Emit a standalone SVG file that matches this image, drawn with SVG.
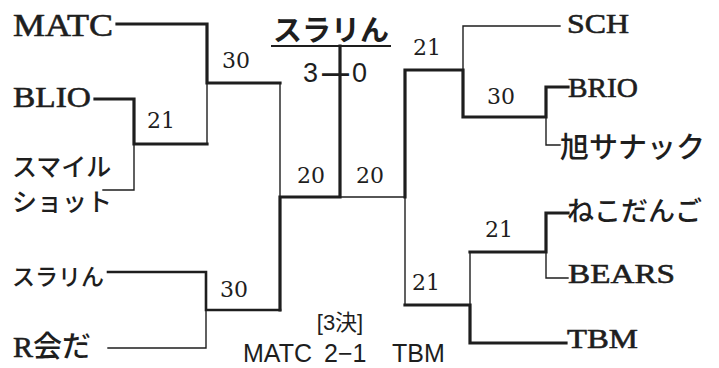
<svg xmlns="http://www.w3.org/2000/svg" width="719" height="368" viewBox="0 0 719 368">
<style>
.bg{fill:#fff}
.thin{stroke:#1e1e1e;stroke-width:1.4;fill:none;stroke-linecap:square}
.thick{stroke:#1e1e1e;stroke-width:3.2;fill:none;stroke-linecap:square}
.lat{font-family:"Liberation Serif","Noto Sans CJK JP",serif;fill:#1e1e1e;stroke:#1e1e1e;stroke-width:0.6}
.jp{font-family:"Noto Sans CJK JP",sans-serif;fill:#1e1e1e;font-weight:500}
.sc{font-family:"DejaVu Serif",serif;font-size:22px;fill:#1e1e1e}
.sans{font-family:"Liberation Sans","Noto Sans CJK JP",sans-serif;fill:#1e1e1e}
</style>
<rect class="bg" x="0" y="0" width="719" height="368"/>

<g id="connectors">
  <polyline class="thick" points="117,24 207,24 207,83 280,83"/>
  <polyline class="thin" points="207,83 207,144"/>
  <polyline class="thick" points="95,99 134,99 134,144 207,144"/>
  <polyline class="thin" points="134,144 134,190 103,190"/>
  <polyline class="thick" points="108,272 206,272 206,310 280,310" style="stroke-width:2.6"/>
  <polyline class="thin" points="206,310 206,348 108,348"/>
  <polyline class="thin" points="280,83 280,197"/>
  <polyline class="thick" points="280,310 280,197 340,197 340,46"/>
  <polyline class="thin" points="340,197 405,197"/>
  <line class="thin" x1="272" y1="46" x2="390" y2="46" style="stroke-width:2"/>
  <polyline class="thick" points="405,197 405,70 463,70 463,117 546,117 546,87 568,87"/>
  <polyline class="thin" points="463,70 463,26 560,26"/>
  <polyline class="thin" points="546,117 546,145 560,145"/>
  <polyline class="thin" points="405,197 405,305"/>
  <polyline class="thick" points="405,305 470,305 470,343 566,343"/>
  <polyline class="thin" points="470,305 470,252"/>
  <polyline class="thick" points="470,252 546,252 546,213 568,213"/>
  <polyline class="thin" points="546,252 546,278 568,278"/>
</g>

<g id="scores">
  <text class="sc" x="222" y="68">30</text>
  <text class="sc" x="147" y="128">21</text>
  <text class="sc" x="220" y="297">30</text>
  <text class="sc" x="297" y="183">20</text>
  <text class="sc" x="356" y="183">20</text>
  <text class="sc" x="413" y="55">21</text>
  <text class="sc" x="487" y="104">30</text>
  <text class="sc" x="485" y="237">21</text>
  <text class="sc" x="412" y="290">21</text>
</g>

<g id="title">
  <text class="jp" x="331" y="41" font-size="29" style="font-weight:bold" text-anchor="middle">スラリん</text>
  <text class="sans" font-size="27" y="82"><tspan x="303">3</tspan><tspan x="322" font-weight="bold">—</tspan><tspan x="352">0</tspan></text>
</g>

<g id="team-matc"><text class="lat" x="13" y="36" font-size="32" textLength="100" lengthAdjust="spacingAndGlyphs">MATC</text></g>
<g id="team-blio"><text class="lat" x="13" y="107" font-size="30" textLength="78" lengthAdjust="spacingAndGlyphs">BLIO</text></g>
<g id="team-smile"><text class="jp" x="12" y="176" font-size="25">スマイル</text><text class="jp" x="12" y="211" font-size="25">ショット</text></g>
<g id="team-surarin"><text class="jp" x="12" y="285" font-size="23">スラリん</text></g>
<g id="team-rkaida"><text class="lat" x="13" y="357" font-size="30">R<tspan class="jp" font-size="29" style="stroke:none">会だ</tspan></text></g>

<g id="team-sch"><text class="lat" x="567" y="33" font-size="28" textLength="62" lengthAdjust="spacingAndGlyphs">SCH</text></g>
<g id="team-brio"><text class="lat" x="568" y="97" font-size="28" textLength="70" lengthAdjust="spacingAndGlyphs">BRIO</text></g>
<g id="team-asahi"><text class="jp" x="560" y="158" font-size="29">旭サナック</text></g>
<g id="team-nekodango"><text class="jp" x="567" y="221" font-size="27">ねこだんご</text></g>
<g id="team-bears"><text class="lat" x="568" y="283" font-size="28" textLength="107" lengthAdjust="spacingAndGlyphs">BEARS</text></g>
<g id="team-tbm"><text class="lat" x="567" y="348" font-size="28" textLength="71" lengthAdjust="spacingAndGlyphs">TBM</text></g>

<g id="third-place">
  <text class="sans" x="340" y="330" font-size="22" text-anchor="middle">[3決]</text>
  <text class="sans" y="362" font-size="25"><tspan x="243">MATC</tspan><tspan x="324">2−1</tspan><tspan x="392">TBM</tspan></text>
</g>
</svg>
